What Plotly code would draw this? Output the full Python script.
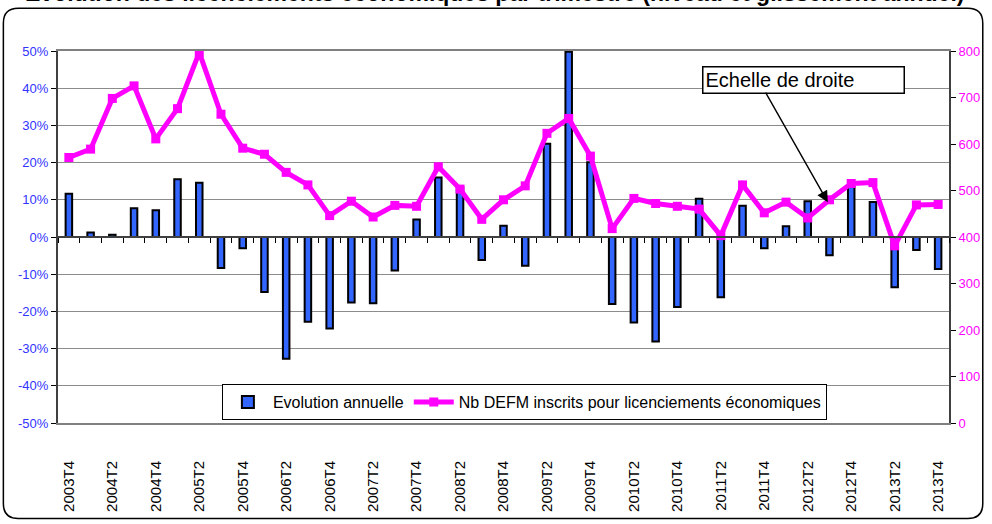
import plotly.graph_objects as go

# Quarterly series, 2003T4 -> 2013T4
quarters = [
    "2003T4",
    "2004T1", "2004T2", "2004T3", "2004T4",
    "2005T1", "2005T2", "2005T3", "2005T4",
    "2006T1", "2006T2", "2006T3", "2006T4",
    "2007T1", "2007T2", "2007T3", "2007T4",
    "2008T1", "2008T2", "2008T3", "2008T4",
    "2009T1", "2009T2", "2009T3", "2009T4",
    "2010T1", "2010T2", "2010T3", "2010T4",
    "2011T1", "2011T2", "2011T3", "2011T4",
    "2012T1", "2012T2", "2012T3", "2012T4",
    "2013T1", "2013T2", "2013T3", "2013T4",
]

# Evolution annuelle (left axis, share)
evolution_annuelle = [
    0.116,
    0.012, 0.006, 0.077, 0.072,
    0.155, 0.146, -0.083, -0.030,
    -0.148, -0.327, -0.228, -0.246,
    -0.176, -0.178, -0.090, 0.047,
    0.160, 0.134, -0.062, 0.030,
    -0.077, 0.251, 0.498, 0.201,
    -0.180, -0.230, -0.281, -0.188,
    0.103, -0.162, 0.084, -0.030,
    0.029, 0.096, -0.049, 0.135,
    0.094, -0.135, -0.035, -0.086,
]

# Nb DEFM inscrits pour licenciements economiques (right axis)
nb_defm = [
    571,
    589, 698, 725, 611,
    676, 797, 664, 591,
    578, 539, 512, 446,
    477, 443, 468, 466,
    551, 503, 438, 480,
    510, 623, 655, 574,
    418, 483, 472, 466,
    460, 403, 512, 452,
    475, 441, 480, 515,
    517, 381, 469, 470,
]

tick_labels = quarters[::2]
left_ticks = [-0.5, -0.4, -0.3, -0.2, -0.1, 0, 0.1, 0.2, 0.3, 0.4, 0.5]
left_ticktext = ["-50%", "-40%", "-30%", "-20%", "-10%", "0%", "10%", "20%", "30%", "40%", "50%"]

FONT = "Arial, Liberation Sans, sans-serif"
W, H = 992, 524
ML, MR, MT, MB = 58, 37, 51, 99
PW, PH = W - ML - MR, H - MT - MB


def px_x(px):
    return (px - ML) / PW


def px_y(py):
    return (H - MB - py) / PH


fig = go.Figure()

fig.add_trace(go.Bar(
    x=quarters,
    y=evolution_annuelle,
    name="Evolution annuelle",
    width=0.3,
    marker=dict(color="#3366FF", line=dict(color="black", width=2)),
))

fig.add_trace(go.Scatter(
    x=quarters,
    y=nb_defm,
    name="Nb DEFM inscrits pour licenciements économiques",
    yaxis="y2",
    mode="lines+markers",
    line=dict(color="#FF00FF", width=5),
    marker=dict(symbol="square", size=9, color="#FF00FF"),
))

# invisible helper trace so the 0% category axis gets drawn
fig.add_trace(go.Scatter(x=[], y=[], xaxis="x2", showlegend=False, hoverinfo="skip"))

# rounded chart border
x0, x1 = px_x(3), px_x(989)
y0, y1 = px_y(521), px_y(8)
rx, ry = 15 / PW, 15 / PH
path = (
    f"M {x0 + rx},{y1} L {x1 - rx},{y1} Q {x1},{y1} {x1},{y1 - ry} "
    f"L {x1},{y0 + ry} Q {x1},{y0} {x1 - rx},{y0} "
    f"L {x0 + rx},{y0} Q {x0},{y0} {x0},{y0 + ry} "
    f"L {x0},{y1 - ry} Q {x0},{y1} {x0 + rx},{y1} Z"
)
fig.add_shape(type="path", path=path, xref="paper", yref="paper",
              line=dict(color="black", width=1.5), layer="below")

# title, mostly cut off by the top of the picture
fig.add_annotation(
    text="<b>Evolution des licenciements économiques par trimestre (niveau et glissement annuel)</b>",
    xref="paper", yref="paper", x=px_x(497), y=px_y(-7),
    xanchor="center", yanchor="middle", showarrow=False,
    font=dict(family=FONT, size=23, color="black"),
)

# "Echelle de droite" callout
fig.add_annotation(
    text="Echelle de droite",
    xref="paper", yref="paper", x=px_x(706), y=px_y(66),
    xanchor="left", yanchor="top", showarrow=False,
    width=196, height=21, align="left", borderpad=2,
    bordercolor="black", borderwidth=1.5, bgcolor="white",
    font=dict(family=FONT, size=20, color="black"),
)
fig.add_annotation(
    text="",
    xref="paper", yref="paper", x=px_x(833), y=px_y(203),
    ax=770 - 833, ay=92 - 203, axref="pixel", ayref="pixel",
    showarrow=True, arrowhead=2, arrowsize=1.6, arrowwidth=1.4, arrowcolor="black",
)

fig.update_layout(
    width=W, height=H,
    margin=dict(l=ML, r=MR, t=MT, b=MB),
    paper_bgcolor="white",
    plot_bgcolor="white",
    font=dict(family=FONT, size=13, color="black"),
    showlegend=True,
    legend=dict(
        orientation="h",
        x=px_x(223), y=px_y(386), xanchor="left", yanchor="top",
        bgcolor="white", bordercolor="black", borderwidth=1,
        font=dict(family=FONT, size=16, color="black"),
        itemwidth=40,
    ),
    xaxis=dict(
        type="category",
        range=[-0.5, len(quarters) - 0.5],
        tickmode="array",
        tickvals=tick_labels,
        ticktext=tick_labels,
        tickangle=-90,
        ticks="",
        ticklabelstandoff=30,
        tickfont=dict(family=FONT, size=15, color="black"),
        showline=True, mirror=True, linecolor="#808080", linewidth=2,
        showgrid=False,
    ),
    xaxis2=dict(
        overlaying="x",
        anchor="free",
        position=0.5,
        range=[-0.5, len(quarters) - 0.5],
        tickmode="linear", tick0=0.5, dtick=1,
        ticks="outside", ticklen=5, tickwidth=1.2, tickcolor="black",
        showticklabels=False,
        showline=True, linecolor="#404040", linewidth=1.5,
        showgrid=False, zeroline=False,
    ),
    yaxis=dict(
        range=[-0.5, 0.5],
        tickmode="array",
        tickvals=left_ticks,
        ticktext=left_ticktext,
        tickfont=dict(family=FONT, size=13, color="#3333FF"),
        ticks="outside", ticklen=5, tickcolor="black",
        showline=True, linecolor="#404040", linewidth=2,
        showgrid=True, gridcolor="#8c8c8c", gridwidth=1,
        zeroline=False,
    ),
    yaxis2=dict(
        overlaying="y",
        side="right",
        range=[0, 800],
        dtick=100,
        tickfont=dict(family=FONT, size=13, color="#FF00FF"),
        ticks="outside", ticklen=5, tickcolor="black",
        showline=True, linecolor="#404040", linewidth=2,
        showgrid=False, zeroline=False,
    ),
)

# page body has a default 8px margin; drop it so the figure sits at the window origin
fig.write_html(
    "out.html",
    config={"displayModeBar": False},
    post_script="document.body.style.margin='0px';",
)
